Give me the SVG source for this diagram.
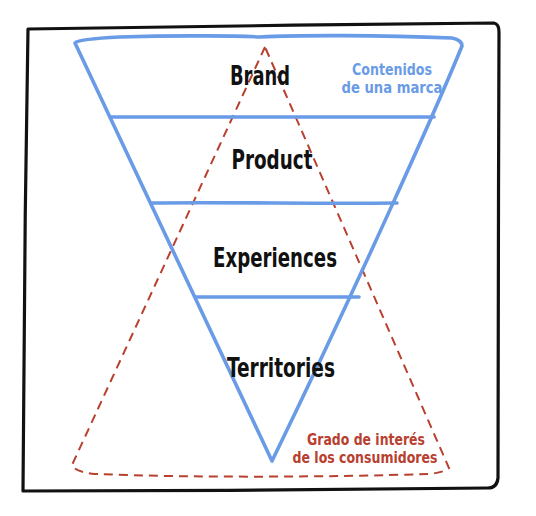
<svg xmlns="http://www.w3.org/2000/svg" width="536" height="516" viewBox="0 0 536 516">
<style>
.frame{fill:none;stroke:#111;stroke-width:3.2;stroke-linejoin:round}
.blue{fill:none;stroke:#6a9be6;stroke-width:3.6;stroke-linecap:round;stroke-linejoin:round}
.red{fill:none;stroke:#b8402f;stroke-width:2;stroke-dasharray:9 6}
.lbl{font-family:"DejaVu Sans Condensed","DejaVu Sans",sans-serif;font-weight:bold;fill:#111;font-size:26px;text-anchor:middle}
.note{font-family:"DejaVu Sans Condensed","DejaVu Sans",sans-serif;font-weight:bold;font-size:16.5px;text-anchor:middle}
</style>
<rect width="536" height="516" fill="#fff"/>
<path class="frame" d="M28,29 C150,26 350,25 494,23 Q499,24 499,32 C498,180 499,340 498,478 Q497,488 488,488 C350,490 170,491 23,491 C24,350 25,180 28,29 Z"/>
<g id="connectors">
<path class="red" d="M265,47 L72,465 Q75,472 95,474 C200,478 330,477 430,474 Q445,472 449,468 L265,47"/>
</g>
<g id="funnel">
<path class="blue" d="M75,43 Q78,39 120,37 C180,35 240,36 260,37 C300,35 380,35 452,38 Q462,40 462,46 C440,100 360,280 272,461 L75,43 Z"/>
<path class="blue" d="M110,117 C200,116 300,117 434,117"/>
<path class="blue" d="M151,203 C230,202 320,204 397,203"/>
<path class="blue" d="M196,297 C250,297 310,297 359,297"/>
</g>
<g id="brand"><text class="lbl" x="260" y="85" textLength="60" lengthAdjust="spacingAndGlyphs">Brand</text></g>
<g id="product"><text class="lbl" x="272" y="169" textLength="81" lengthAdjust="spacingAndGlyphs">Product</text></g>
<g id="experiences"><text class="lbl" x="275" y="267" textLength="124" lengthAdjust="spacingAndGlyphs">Experiences</text></g>
<g id="territories"><text class="lbl" x="281" y="377" textLength="108" lengthAdjust="spacingAndGlyphs">Territories</text></g>
<g id="contenidos" fill="#6a9be6">
<text class="note" x="392" y="75" textLength="80" lengthAdjust="spacingAndGlyphs">Contenidos</text>
<text class="note" x="392" y="93" textLength="101" lengthAdjust="spacingAndGlyphs">de una marca</text>
</g>
<g id="grado" fill="#b8402f">
<text class="note" x="366" y="445" textLength="118" lengthAdjust="spacingAndGlyphs">Grado de interés</text>
<text class="note" x="365" y="463" textLength="145" lengthAdjust="spacingAndGlyphs">de los consumidores</text>
</g>
</svg>
